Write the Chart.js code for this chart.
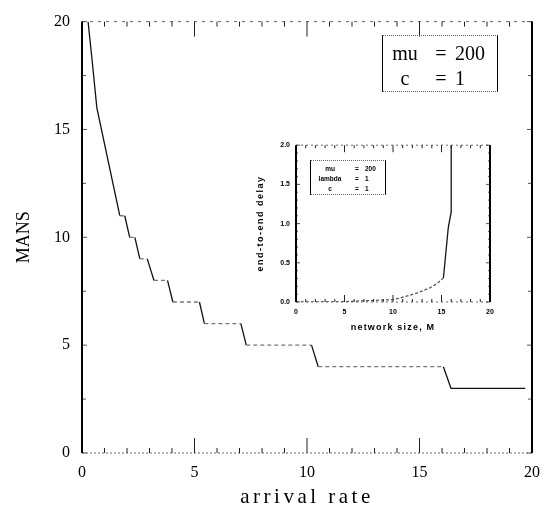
<!DOCTYPE html>
<html>
<head>
<meta charset="utf-8">
<script src="https://cdn.jsdelivr.net/npm/chart.js@4.4.1/dist/chart.umd.min.js"></script>
<style>
  body { margin: 0; background: #fff; }
  #wrap { position: relative; width: 550px; height: 510px; }
  #mainChart { position: absolute; left: 0; top: 0; }
  #insetChart { position: absolute; left: 250px; top: 135px; }
  .note {
    position: absolute;
    display: grid;
    box-sizing: border-box;
    color: #000;
    border-left: 1.5px solid #000;
    border-right: 1.5px solid #000;
    border-top: 1px dotted #666;
    border-bottom: 1px dotted #666;
  }
  .note .c { text-align: center; }
  #mainNote {
    left: 382px; top: 35px; width: 116px; height: 57px;
    grid-template-columns: 44px 28px auto;
    font: 20px "Liberation Serif", serif;
    line-height: 23px;
    padding-top: 6px;
  }
  #insetNote {
    left: 310px; top: 160px; width: 76px; height: 35px;
    grid-template-columns: 38px 16px auto;
    font: bold 6.5px "Liberation Sans", sans-serif;
    line-height: 9.5px;
    padding-top: 3px;
  }
</style>
</head>
<body>
<div id="wrap">
  <canvas id="mainChart" width="550" height="510"></canvas>
  <canvas id="insetChart" width="250" height="200"></canvas>
  <div class="note" id="mainNote"></div>
  <div class="note" id="insetNote"></div>
</div>
<script>
// main plot: MANS vs arrival rate
const rateX = [0.27, 0.44, 0.66, 1.68, 1.9, 2.12, 2.35, 2.57, 2.9, 3.2, 3.8, 4.04, 5.22, 5.44, 7.06, 7.3, 10.2, 10.5, 16.06, 16.4, 19.7];
const mansY = [20, 18.3, 16, 11, 11, 10, 10, 9, 9, 8, 8, 7, 7, 6, 6, 5, 5, 4, 4, 3, 3];

// inset: end-to-end delay vs network size
const sizeX = [0, 2, 4, 6, 8, 10, 10.7, 12.5, 13.8, 14.6, 15.2, 15.7, 16.0, 16.0];
const delayY = [0, 0, 0, 0.01, 0.02, 0.03, 0.05, 0.115, 0.18, 0.24, 0.31, 0.95, 1.15, 2.0];

// parameter boxes
const mainParams = ["mu", "c"];
const mainParamValues = ["200", "1"];
const insetParams = ["mu", "lambda", "c"];
const insetParamValues = ["200", "1", "1"];

function fillNote(id, names, values) {
  const box = document.getElementById(id);
  names.forEach((name, i) => {
    [name, "=", values[i]].forEach((t, j) => {
      const span = document.createElement("span");
      span.textContent = t;
      if (j < 2) span.className = "c";
      box.appendChild(span);
    });
  });
}
fillNote("mainNote", mainParams, mainParamValues);
fillNote("insetNote", insetParams, insetParamValues);

function line(ctx, x1, y1, x2, y2) {
  ctx.beginPath();
  ctx.moveTo(x1, y1);
  ctx.lineTo(x2, y2);
  ctx.stroke();
}

const isMultiple = (v, step) => Math.abs(v / step - Math.round(v / step)) < 1e-6;

// box frame with inward ticks on all four sides
const frameTicks = {
  id: "frameTicks",
  afterDatasetsDraw(chart, args, opts) {
    const { ctx, chartArea: a, scales: { x, y } } = chart;
    ctx.save();
    ctx.strokeStyle = "#666";
    ctx.lineWidth = 1;
    ctx.setLineDash(opts.topDash);
    line(ctx, a.left, a.top, a.right, a.top);
    ctx.setLineDash(opts.bottomDash);
    line(ctx, a.left, a.bottom, a.right, a.bottom);
    ctx.setLineDash([]);

    ctx.strokeStyle = "#222";
    for (let v = x.min; v <= x.max + 1e-9; v += opts.xStep) {
      const px = x.getPixelForValue(v);
      const len = isMultiple(v, opts.xMajor) ? opts.majorLen : opts.minorLen;
      line(ctx, px, a.top, px, a.top + len);
      line(ctx, px, a.bottom, px, a.bottom - len);
    }
    ctx.strokeStyle = "#555";
    for (let v = y.min; v <= y.max + 1e-9; v += opts.yStep) {
      const py = y.getPixelForValue(v);
      const len = isMultiple(v, opts.yMajor) ? opts.yMajorLen : opts.yMinorLen;
      line(ctx, a.left, py, a.left + len, py);
      line(ctx, a.right, py, a.right - len, py);
    }

    ctx.strokeStyle = "#000";
    ctx.lineWidth = opts.sideWidth;
    line(ctx, a.left, a.top, a.left, a.bottom);
    line(ctx, a.right, a.top, a.right, a.bottom);
    ctx.restore();
  },
};

// axis titles drawn with letter spacing
const axisTitles = {
  id: "axisTitles",
  afterDraw(chart, args, opts) {
    const { ctx, chartArea: a } = chart;
    ctx.save();
    ctx.fillStyle = "#000";
    ctx.textAlign = "center";
    ctx.textBaseline = "middle";
    ctx.font = opts.xFont;
    ctx.letterSpacing = opts.xSpacing;
    ctx.fillText(opts.xText, (a.left + a.right) / 2, a.bottom + opts.xGap);
    ctx.font = opts.yFont;
    ctx.letterSpacing = opts.ySpacing;
    ctx.translate(a.left - opts.yGap, (a.top + a.bottom) / 2);
    ctx.rotate(-Math.PI / 2);
    ctx.fillText(opts.yText, 0, 0);
    ctx.letterSpacing = "0px";
    ctx.restore();
  },
};

const serifTicks = { family: "Liberation Serif", size: 16 };
const smallTicks = { family: "Liberation Sans", size: 7, weight: "bold" };

new Chart(document.getElementById("mainChart"), {
  type: "line",
  data: {
    datasets: [
      {
        data: rateX.map((x, i) => ({ x: x, y: mansY[i] })),
        borderColor: "#111",
        borderWidth: 1.3,
        pointRadius: 0,
        tension: 0,
        segment: {
          borderDash: (c) => (c.p0.parsed.y === c.p1.parsed.y && c.p0.parsed.y > 3 ? [4, 3] : undefined),
          borderColor: (c) => (c.p0.parsed.y === c.p1.parsed.y && c.p0.parsed.y > 3 ? "#777" : undefined),
        },
      },
    ],
  },
  options: {
    responsive: false,
    animation: false,
    layout: { padding: { top: 13, right: 16, left: 0, bottom: 0 } },
    plugins: {
      legend: { display: false },
      tooltip: { enabled: false },
      frameTicks: {
        topDash: [3, 5], bottomDash: [2, 2],
        xStep: 1, xMajor: 5, minorLen: 5, majorLen: 15,
        yStep: 2.5, yMajor: 5, yMinorLen: 4, yMajorLen: 5,
        sideWidth: 2,
      },
      axisTitles: {
        xText: "arrival rate", xFont: "21px 'Liberation Serif'", xSpacing: "3.5px", xGap: 44,
        yText: "MANS", yFont: "18px 'Liberation Serif'", ySpacing: "0px", yGap: 58,
      },
    },
    scales: {
      x: {
        type: "linear",
        min: 0,
        max: 20,
        afterFit: (s) => { s.height = 57; },
        grid: { display: false, drawTicks: false },
        border: { display: false },
        ticks: { stepSize: 5, color: "#000", font: serifTicks, padding: 10 },
      },
      y: {
        min: 0,
        max: 20,
        afterFit: (s) => { s.width = 82; },
        grid: { display: false, drawTicks: false },
        border: { display: false },
        ticks: { stepSize: 5, color: "#000", font: serifTicks, padding: 12 },
      },
    },
  },
  plugins: [frameTicks, axisTitles],
});

new Chart(document.getElementById("insetChart"), {
  type: "line",
  data: {
    datasets: [
      {
        data: sizeX.map((x, i) => ({ x: x, y: delayY[i] })),
        borderColor: "#111",
        borderWidth: 1.3,
        pointRadius: 0,
        tension: 0,
        segment: {
          borderDash: (c) => (c.p1.parsed.y < 0.35 ? [3, 2] : undefined),
          borderColor: (c) => (c.p1.parsed.y < 0.35 ? "#555" : undefined),
        },
      },
    ],
  },
  options: {
    responsive: false,
    animation: false,
    layout: { padding: { top: 10, right: 10, left: 0, bottom: 0 } },
    plugins: {
      legend: { display: false },
      tooltip: { enabled: false },
      frameTicks: {
        topDash: [2, 3], bottomDash: [2, 3],
        xStep: 1, xMajor: 5, minorLen: 3, majorLen: 7,
        yStep: 0.1, yMajor: 0.5, yMinorLen: 2, yMajorLen: 4,
        sideWidth: 2,
      },
      axisTitles: {
        xText: "network size, M", xFont: "bold 9px 'Liberation Sans'", xSpacing: "1.2px", xGap: 26,
        yText: "end-to-end delay", yFont: "bold 9px 'Liberation Sans'", ySpacing: "1.5px", yGap: 35,
      },
    },
    scales: {
      x: {
        type: "linear",
        min: 0,
        max: 20,
        afterFit: (s) => { s.height = 33; },
        grid: { display: false, drawTicks: false },
        border: { display: false },
        ticks: { stepSize: 5, color: "#000", font: smallTicks, padding: 6 },
      },
      y: {
        min: 0,
        max: 2,
        afterFit: (s) => { s.width = 46; },
        grid: { display: false, drawTicks: false },
        border: { display: false },
        ticks: {
          stepSize: 0.5,
          color: "#000",
          font: smallTicks,
          padding: 6,
          callback: (v) => v.toFixed(1),
        },
      },
    },
  },
  plugins: [frameTicks, axisTitles],
});
</script>
</body>
</html>
